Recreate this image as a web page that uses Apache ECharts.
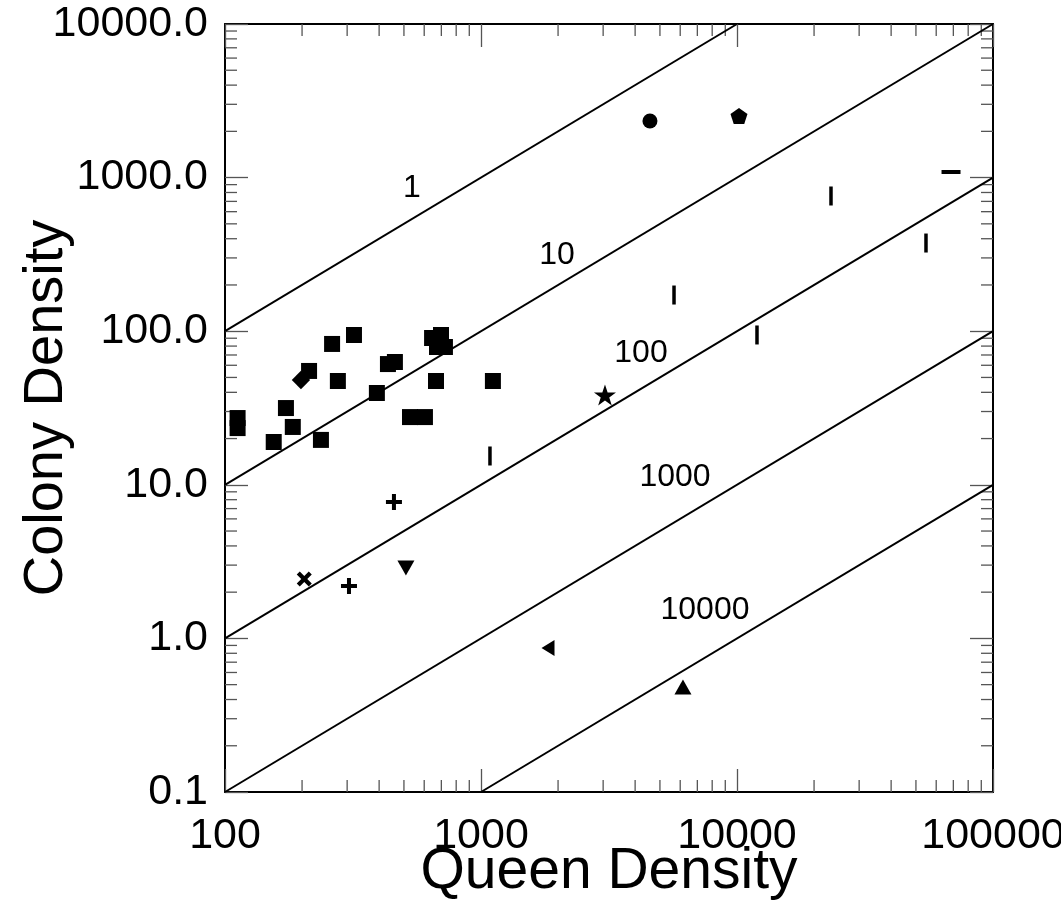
<!DOCTYPE html>
<html>
<head>
<meta charset="utf-8">
<script src="https://cdn.jsdelivr.net/npm/echarts@6/dist/echarts.min.js"></script>
<style>
html,body{margin:0;padding:0;background:#fff;}
#chart{width:1061px;height:922px;}
</style>
</head>
<body>
<div id="chart"></div>
<script>
// ---- data ----
const xTickLabels = ['100', '1000', '10000', '100000'];
const yTickLabels = ['0.1', '1.0', '10.0', '100.0', '1000.0', '10000.0'];
const minorMultipliers = [2, 3, 4, 5, 6, 7, 8, 9];
const xDecades = [100, 1000, 10000];
const yDecades = [0.1, 1, 10, 100, 1000];

// ratio lines (Queen/Colony) endpoints
const ratioNames = ['1', '10', '100', '1000', '10000'];
const ratioLines = [
  [[100, 100], [10000, 10000]],
  [[100, 10], [100000, 10000]],
  [[100, 1], [100000, 1000]],
  [[100, 0.1], [100000, 100]],
  [[1000, 0.1], [100000, 10]]
];
const ratioLabelPos = [[537, 855], [1981, 313], [4217, 72.1], [5725, 11.2], [7499, 1.53]];

const squares = [
  [112, 27.2], [112, 23.4], [155, 19.0], [173, 31.6], [184, 23.8], [213, 55.1],
  [262, 82.6], [319, 94.5], [276, 47.4], [237, 19.6], [392, 39.6], [433, 61.1],
  [461, 63.0], [528, 27.6], [604, 27.6], [644, 90.3], [698, 94.5], [673, 78.9],
  [723, 78.9], [667, 47.4], [1113, 47.4]
];
const diamonds = [[198, 48.1]];
const vbars = [[1084, 15.4], [5675, 172], [11970, 94.5], [23290, 759], [54730, 375]];
const hbars = [[68550, 1088]];
const stars = [[3050, 38.4]];
const circles = [[4571, 2336]];
const pentagons = [[10180, 2518]];
const crosses = [[204, 2.44]];
const pluses = [[457, 7.73], [305, 2.19]];
const trianglesDown = [[509, 2.87]];
const trianglesLeft = [[1827, 0.866]];
const trianglesUp = [[6150, 0.483]];

// ---- helpers ----
const xMinor = [];
xDecades.forEach(d => minorMultipliers.forEach(m => xMinor.push([d * m, 1])));
const yMinor = [];
yDecades.forEach(d => minorMultipliers.forEach(m => yMinor.push([1000, d * m])));

const FONT = '"Liberation Sans", Arial, Helvetica, sans-serif';
const TICK_COLOR = '#555';
const MINOR_LEN = 12;

function tickLine(x1, y1, x2, y2) {
  return { type: 'line', shape: { x1, y1, x2, y2 }, style: { stroke: TICK_COLOR, lineWidth: 1.3 } };
}

const PLUS = 'path://M6,0H10V6H16V10H10V16H6V10H0V6H6Z';
const STAR = 'path://M50,0L61.8,35.4L99,35.4L69,57.3L80.3,92.7L50,70.8L19.7,92.7L31,57.3L1,35.4L38.2,35.4Z';
const PENT = 'path://M50,0L100,36.3L80.9,95.1L19.1,95.1L0,36.3Z';

function scatter(data, symbol, size, rotate) {
  return {
    type: 'scatter', data, symbol, symbolSize: size, symbolRotate: rotate || 0,
    itemStyle: { color: '#000', opacity: 1 }, z: 5, silent: true
  };
}

const series = [];
ratioLines.forEach((pts, i) => {
  series.push({
    type: 'line', name: ratioNames[i], data: pts, showSymbol: false, symbol: 'none',
    lineStyle: { color: '#000', width: 2 }, z: 3, silent: true
  });
});
// ratio labels
series.push({
  type: 'custom', data: ratioLabelPos, silent: true, z: 6, clip: false,
  renderItem: function (params, api) {
    const p = api.coord([api.value(0), api.value(1)]);
    return {
      type: 'text', x: p[0], y: p[1],
      style: {
        text: ratioNames[params.dataIndex], fill: '#000', align: 'center', verticalAlign: 'middle',
        font: '32px ' + FONT
      }
    };
  }
});
series.push(scatter(squares, 'rect', 16));
series.push(scatter(diamonds, 'rect', 13, 45));
series.push(scatter(vbars, 'rect', [3.5, 19]));
series.push(scatter(hbars, 'rect', [19, 4]));
series.push(scatter(stars, STAR, [22, 21]));
series.push(scatter(circles, 'circle', 15));
series.push(scatter(pentagons, PENT, [17, 16]));
series.push(scatter(crosses, PLUS, 17, 45));
series.push(scatter(pluses, PLUS, 16));
series.push(scatter(trianglesDown, 'triangle', [17, 15], 180));
series.push(scatter(trianglesLeft, 'triangle', [16, 13], 90));
series.push(scatter(trianglesUp, 'triangle', [17, 15]));

// minor ticks
series.push({
  type: 'custom', data: xMinor, silent: true, z: 2, clip: false,
  renderItem: function (params, api) {
    const v = api.value(0);
    const b = api.coord([v, 0.1]);
    const t = api.coord([v, 10000]);
    return { type: 'group', children: [
      tickLine(b[0], b[1], b[0], b[1] - MINOR_LEN),
      tickLine(t[0], t[1], t[0], t[1] + MINOR_LEN)
    ] };
  }
});
series.push({
  type: 'custom', data: yMinor, silent: true, z: 2, clip: false,
  renderItem: function (params, api) {
    const v = api.value(1);
    const l = api.coord([100, v]);
    const r = api.coord([100000, v]);
    return { type: 'group', children: [
      tickLine(l[0], l[1], l[0] + MINOR_LEN, l[1]),
      tickLine(r[0], r[1], r[0] - MINOR_LEN, r[1])
    ] };
  }
});

const axisLine = { show: true, onZero: false, lineStyle: { color: '#000', width: 2 } };
const majorTick = { show: true, inside: true, length: 23, lineStyle: { color: TICK_COLOR, width: 1.3 } };

const option = {
  animation: false,
  backgroundColor: '#fff',
  grid: { left: 225, top: 24, width: 768, height: 768, containLabel: false, outerBoundsMode: 'none' },
  xAxis: [{
    type: 'log', logBase: 10, min: 100, max: 100000, position: 'bottom',
    name: 'Queen Density', nameLocation: 'middle', nameGap: 52, nameMoveOverlap: false,
    nameTextStyle: { fontSize: 57, fontFamily: FONT, color: '#000' },
    axisLine, axisTick: majorTick, splitLine: { show: false },
    axisLabel: {
      margin: 23, fontSize: 43, fontFamily: FONT, color: '#000',
      formatter: v => xTickLabels[Math.round(Math.log10(v)) - 2]
    }
  }, {
    type: 'log', logBase: 10, min: 100, max: 100000, position: 'top',
    axisLine, axisTick: majorTick, splitLine: { show: false }, axisLabel: { show: false }
  }],
  yAxis: [{
    type: 'log', logBase: 10, min: 0.1, max: 10000, position: 'left',
    name: 'Colony Density', nameLocation: 'middle', nameGap: 150, nameMoveOverlap: false,
    nameTextStyle: { fontSize: 56, fontFamily: FONT, color: '#000' },
    axisLine, axisTick: majorTick, splitLine: { show: false },
    axisLabel: {
      margin: 17, fontSize: 43, fontFamily: FONT, color: '#000',
      formatter: v => yTickLabels[Math.round(Math.log10(v)) + 1]
    }
  }, {
    type: 'log', logBase: 10, min: 0.1, max: 10000, position: 'right',
    axisLine, axisTick: majorTick, splitLine: { show: false }, axisLabel: { show: false }
  }],
  series
};

const chart = echarts.init(document.getElementById('chart'), null, { renderer: 'canvas' });
chart.setOption(option);
</script>
</body>
</html>
